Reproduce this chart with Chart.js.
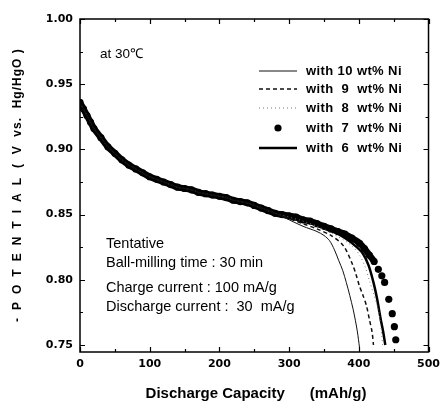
<!DOCTYPE html>
<html>
<head>
<meta charset="utf-8">
<script src="https://cdn.jsdelivr.net/npm/chart.js@4.4.1/dist/chart.umd.min.js"></script>
<style>
  html, body { margin: 0; padding: 0; background: #fff; }
  #wrap { width: 446px; height: 413px; position: relative; }
</style>
</head>
<body>
<div id="wrap"><canvas id="chart" width="446" height="413"></canvas></div>
<script>
// discharge curves, capacity (mAh/g) vs potential (V)
// common part of all curves up to ~280 mAh/g
const baseCap = [0, 5, 10, 15, 20, 30, 40, 50, 60, 70, 80, 90, 100, 110, 120, 130, 140, 150, 160, 170, 180, 190, 200, 210, 220, 230, 240, 250, 260, 270, 280];
const baseV   = [0.936, 0.931, 0.926, 0.921, 0.916, 0.909, 0.902, 0.897, 0.892, 0.888, 0.885, 0.882, 0.879, 0.877, 0.875, 0.873, 0.871, 0.870, 0.869, 0.867, 0.866, 0.865, 0.864, 0.863, 0.861, 0.860, 0.859, 0.857, 0.855, 0.853, 0.851];

// tails after the curves split
const cap10 = [300, 320, 340, 350, 358, 365, 371, 377, 382, 387, 392, 395, 398, 401];
const v10   = [0.846, 0.841, 0.837, 0.834, 0.830, 0.823, 0.815, 0.807, 0.798, 0.788, 0.777, 0.769, 0.760, 0.748];
const cap9  = [300, 320, 340, 360, 378, 390, 396, 401, 406, 411, 415, 419, 421];
const v9    = [0.847, 0.843, 0.839, 0.834, 0.826, 0.813, 0.804, 0.795, 0.788, 0.780, 0.770, 0.760, 0.750];
const cap8  = [300, 320, 340, 360, 380, 392, 401, 409, 416, 422, 428, 431, 433, 434];
const v8    = [0.848, 0.845, 0.841, 0.836, 0.830, 0.825, 0.819, 0.810, 0.798, 0.788, 0.777, 0.767, 0.757, 0.750];
const cap7  = [290, 300, 310, 320, 330, 340, 350, 360, 370, 380, 390, 401, 408, 415, 422, 428, 433, 437, 443, 448, 451, 453];
const v7    = [0.850, 0.849, 0.848, 0.846, 0.845, 0.843, 0.841, 0.839, 0.837, 0.835, 0.832, 0.828, 0.824, 0.819, 0.814, 0.808, 0.803, 0.798, 0.785, 0.774, 0.764, 0.754];
const cap6  = [300, 320, 340, 360, 380, 395, 406, 414, 421, 426, 429, 432, 435, 438];
const v6    = [0.849, 0.846, 0.842, 0.838, 0.832, 0.826, 0.820, 0.811, 0.798, 0.786, 0.777, 0.768, 0.760, 0.750];

const seriesNames = ['with 10 wt% Ni', 'with  9  wt% Ni', 'with  8  wt% Ni', 'with  7  wt% Ni', 'with  6  wt% Ni'];

const xTicks = [0, 100, 200, 300, 400, 500];
const yTicks = [0.75, 0.80, 0.85, 0.90, 0.95, 1.00];
const xMinorTicks = [0, 50, 100, 150, 200, 250, 300, 350, 400, 450, 500];
const yMinorTicks = [0.75, 0.775, 0.80, 0.825, 0.85, 0.875, 0.90, 0.925, 0.95, 0.975, 1.00];

const notes = ['Tentative', 'Ball-milling time : 30 min', 'Charge current : 100 mA/g', 'Discharge current :  30  mA/g'];

function pts(caps, vs) {
  return caps.map((c, i) => ({ x: c, y: vs[i] }));
}
function withBase(caps, vs) {
  return pts(baseCap, baseV).concat(pts(caps, vs));
}

const styles = [
  { borderWidth: 1, borderDash: [], color: '#111' },
  { borderWidth: 1.5, borderDash: [4, 3], color: '#111' },
  { borderWidth: 1, borderDash: [1, 3], color: '#777' },
  { dots: true, color: '#000' },
  { borderWidth: 2.5, borderDash: [], color: '#000' }
];

const allData = [
  withBase(cap10, v10),
  withBase(cap9, v9),
  withBase(cap8, v8),
  withBase(cap7, v7),
  withBase(cap6, v6)
];

const datasets = allData.map((d, i) => {
  const s = styles[i];
  if (s.dots) {
    // dense dots fuse into a thick band on the plateau, separate in the tail
    return { label: seriesNames[i], data: d, showLine: true, borderColor: '#000', borderWidth: 6.5,
             tension: 0.3, pointRadius: 3.6, pointBackgroundColor: s.color, pointBorderWidth: 0,
             segment: { borderColor: c => c.p1.parsed.y < 0.812 ? 'rgba(0,0,0,0)' : '#000' } };
  }
  return { label: seriesNames[i], data: d, showLine: true, borderColor: s.color,
           borderWidth: s.borderWidth, borderDash: s.borderDash, pointRadius: 0,
           tension: 0.3, fill: false };
});

const decor = {
  id: 'decor',
  afterDraw(chart) {
    const ctx = chart.ctx;
    const { left, right, top, bottom } = chart.chartArea;
    const xs = chart.scales.x, ys = chart.scales.y;
    ctx.save();
    ctx.strokeStyle = '#000';
    ctx.lineWidth = 1.5;
    ctx.strokeRect(left, top, right - left, bottom - top);
    ctx.lineWidth = 1.2;
    ctx.beginPath();
    xMinorTicks.forEach(v => {
      const px = Math.round(xs.getPixelForValue(v)) + 0.5;
      const len = v % 100 === 0 ? 5 : 3;
      ctx.moveTo(px, bottom); ctx.lineTo(px, bottom - len);
      ctx.moveTo(px, top); ctx.lineTo(px, top + len);
    });
    yMinorTicks.forEach((v, i) => {
      const py = Math.round(ys.getPixelForValue(v)) + 0.5;
      const len = i % 2 === 0 ? 5 : 3;
      ctx.moveTo(left, py); ctx.lineTo(left + len, py);
      ctx.moveTo(right, py); ctx.lineTo(right - len, py);
    });
    ctx.stroke();

    // legend inside the plot
    ctx.fillStyle = '#000';
    ctx.font = 'bold 13px "Liberation Sans", Arial, sans-serif';
    ctx.letterSpacing = '0.4px';
    ctx.textBaseline = 'middle';
    const rowY = [71, 89, 108, 128, 148];
    seriesNames.forEach((name, i) => {
      const s = styles[i];
      const y = rowY[i];
      if (s.dots) {
        ctx.beginPath();
        ctx.arc(278, y, 3.6, 0, Math.PI * 2);
        ctx.fill();
      } else {
        ctx.beginPath();
        ctx.strokeStyle = s.color;
        ctx.lineWidth = s.borderWidth;
        ctx.setLineDash(s.borderDash);
        ctx.moveTo(259, y); ctx.lineTo(297, y);
        ctx.stroke();
        ctx.setLineDash([]);
      }
      ctx.textAlign = 'left';
      ctx.fillText(name, 306, y);
    });
    ctx.letterSpacing = '0px';

    // annotations
    ctx.font = '13.5px "Liberation Sans", Arial, sans-serif';
    ctx.textBaseline = 'alphabetic';
    ctx.fillText('at 30\u2103', 100, 58);
    ctx.font = '14.5px "Liberation Sans", Arial, sans-serif';
    const noteY = [248, 267, 292, 311];
    notes.forEach((t, i) => ctx.fillText(t, 106, noteY[i]));

    // axis titles
    ctx.font = 'bold 15px "Liberation Sans", Arial, sans-serif';
    ctx.textAlign = 'center';
    ctx.fillText('Discharge Capacity      (mAh/g)', 256, 398);

    ctx.translate(21, 322);
    ctx.rotate(-Math.PI / 2);
    ctx.textAlign = 'left';
    ctx.font = 'bold 12px "Liberation Sans", Arial, sans-serif';
    ctx.letterSpacing = '8px';
    ctx.fillText('-POTENTIAL', 0, 0);
    const w1 = ctx.measureText('-POTENTIAL').width;
    ctx.letterSpacing = '1px';
    ctx.fillText('(  V  vs.  Hg/HgO )', w1 + 2, 0);
    ctx.restore();
  }
};

new Chart(document.getElementById('chart'), {
  type: 'scatter',
  data: { datasets },
  options: {
    responsive: false,
    animation: false,
    layout: { padding: { top: 19, right: 13, left: 0, bottom: 0 } },
    plugins: { legend: { display: false }, tooltip: { enabled: false } },
    scales: {
      x: {
        type: 'linear', min: 0, max: 500,
        afterFit: s => { s.height = 61; },
        afterBuildTicks: s => { s.ticks = xTicks.map(v => ({ value: v })); },
        grid: { display: false, drawTicks: false },
        border: { display: false },
        ticks: { padding: 6, color: '#000', font: { family: 'DejaVu Sans', weight: 'bold', size: 11 },
                 callback: v => String(v), maxRotation: 0 }
      },
      y: {
        type: 'linear', min: 0.7446, max: 1.0,
        afterFit: s => { s.width = 80; },
        afterBuildTicks: s => { s.ticks = yTicks.map(v => ({ value: v })); },
        grid: { display: false, drawTicks: false },
        border: { display: false },
        ticks: { padding: 7, color: '#000', font: { family: 'DejaVu Sans', weight: 'bold', size: 11 },
                 callback: v => v.toFixed(2) }
      }
    }
  },
  plugins: [decor]
});
</script>
</body>
</html>
